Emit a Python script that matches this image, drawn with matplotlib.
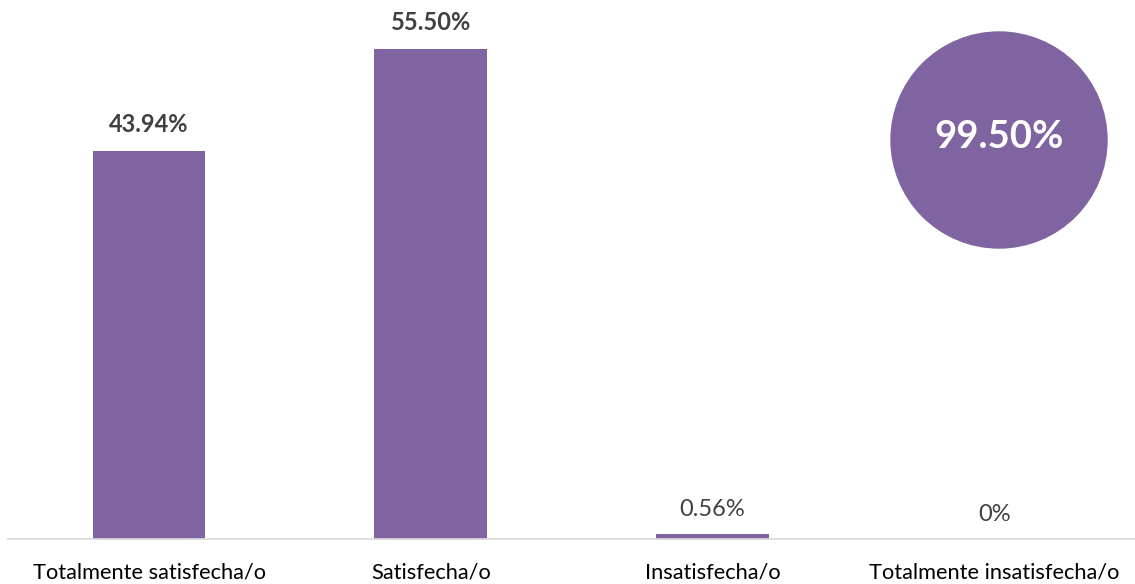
import matplotlib.pyplot as plt
from matplotlib.patches import Ellipse

categories = ["Totalmente satisfecha/o", "Satisfecha/o", "Insatisfecha/o", "Totalmente insatisfecha/o"]
values = [43.94, 55.50, 0.56, 0.0]
value_labels = ["43.94%", "55.50%", "0.56%", "0%"]
bold_labels = [True, True, False, False]
total_label = "99.50%"

PURPLE = "#8064A2"
TEXT = "#404040"


def main():
    plt.rcParams["font.family"] = ["Lato", "DejaVu Sans"]

    fig = plt.figure(figsize=(11.35, 5.84), dpi=100)
    ax = fig.add_axes([0.0073, 45 / 584, 0.9927, 530 / 584])

    x = range(len(categories))
    ax.bar(x, values, width=0.4, color=PURPLE)
    ax.set_xlim(-0.5, 3.5)
    ax.set_ylim(0, 60)

    for i, (v, lab, b) in enumerate(zip(values, value_labels, bold_labels)):
        ax.annotate(lab, (i, v), xytext=(0, 13.5 if b else 13), textcoords="offset points",
                    ha="center", va="baseline", fontsize=17,
                    fontweight="bold" if b else "normal", color=TEXT)

    ax.set_xticks(list(x))
    ax.set_xticklabels(categories, fontsize=15.7, color="black")
    ax.tick_params(axis="x", length=0, pad=17)
    ax.set_yticks([])
    for s in ["left", "right", "top"]:
        ax.spines[s].set_visible(False)
    ax.spines["bottom"].set_color("#D9D9D9")
    ax.spines["bottom"].set_linewidth(1.2)

    # circle with the total
    fig.patches.append(Ellipse((999 / 1135, 1 - 140 / 584), 216 / 1135, 216 / 584,
                               transform=fig.transFigure, color=PURPLE, zorder=5))
    fig.text(999 / 1135, 1 - 137 / 584, total_label, ha="center", va="center",
             fontsize=27.5, fontweight="bold", color="white", zorder=6)

    fig.savefig("out.png", dpi=100)
    plt.close(fig)


if __name__ == "__main__":
    main()
